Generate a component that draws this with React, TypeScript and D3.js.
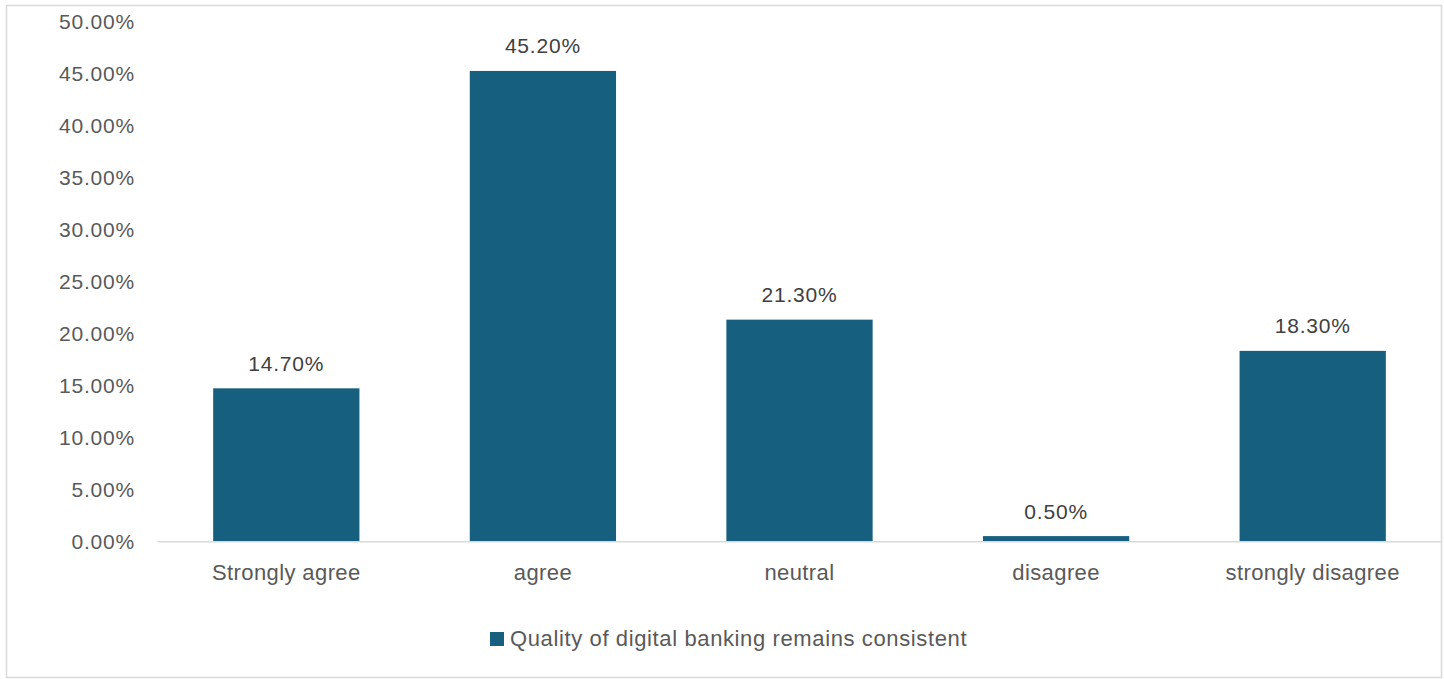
import React from "react";
import * as d3 from "d3";

const categories = ["Strongly agree", "agree", "neutral", "disagree", "strongly disagree"];
const values = [14.7, 45.2, 21.3, 0.5, 18.3];
const yTicks = [0, 5, 10, 15, 20, 25, 30, 35, 40, 45, 50];
const seriesName = "Quality of digital banking remains consistent";

const W = 1444;
const H = 679;
const FONT = "'Liberation Sans', Arial, sans-serif";

export default function App() {
  const x = d3.scaleBand<string>().domain(categories).range([158, 1441]).paddingInner(0.43).paddingOuter(0.215);
  const y = d3.scaleLinear().domain([0, 50]).range([541.3, 21]);
  const fmt = (v: number) => v.toFixed(2) + "%";
  return (
    <svg width={W} height={H} style={{ position: "absolute", left: 0, top: 0, background: "#fff" }}>
      <rect x={6.5} y={5.5} width={1435} height={672} fill="#fff" stroke="#d9d9d9" strokeWidth={1.5} />
      {yTicks.map((t) => (
        <text key={t} x={135} y={y(t)} textAnchor="end" dominantBaseline="central" fontFamily={FONT} fontSize={21} fill="#595959" letterSpacing={0.8}>
          {fmt(t)}
        </text>
      ))}
      {categories.map((c, i) => (
        <g key={c}>
          <rect x={x(c)} y={y(values[i])} width={x.bandwidth()} height={y(0) - y(values[i])} fill="#175f7f" />
          <text x={(x(c) as number) + x.bandwidth() / 2} y={y(values[i]) - 25} textAnchor="middle" dominantBaseline="central" fontFamily={FONT} fontSize={21} fill="#404040" letterSpacing={0.8}>
            {fmt(values[i])}
          </text>
          <text x={(x(c) as number) + x.bandwidth() / 2} y={572} textAnchor="middle" dominantBaseline="central" fontFamily={FONT} fontSize={22} fill="#595959" letterSpacing={0.4}>
            {c}
          </text>
        </g>
      ))}
      <line x1={158} x2={1441} y1={y(0) + 0.5} y2={y(0) + 0.5} stroke="#d9d9d9" strokeWidth={1.5} />
      <rect x={490} y={632} width={14} height={14} fill="#175f7f" />
      <text x={510} y={638.5} dominantBaseline="central" fontFamily={FONT} fontSize={22} fill="#595959" letterSpacing={0.62}>
        {seriesName}
      </text>
    </svg>
  );
}
